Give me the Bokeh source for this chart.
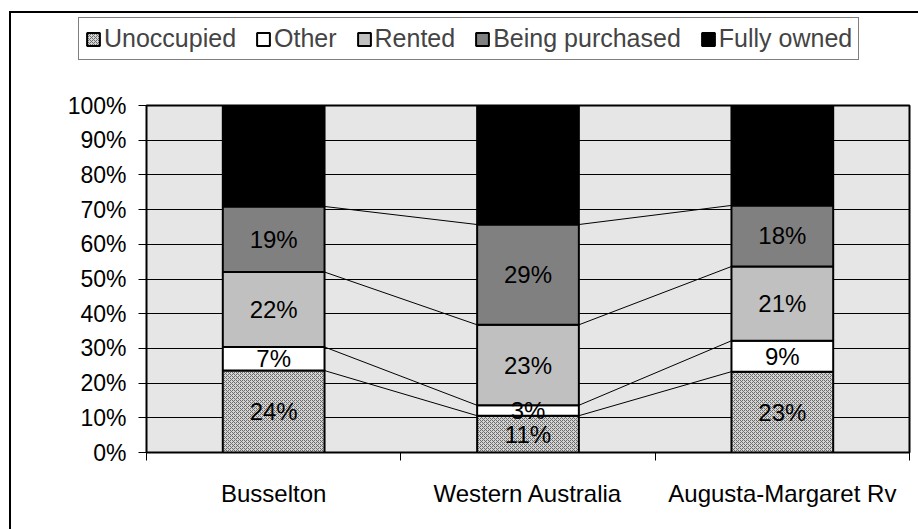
from bokeh.plotting import figure
from bokeh.layouts import column
from bokeh.models import FixedTicker, PrintfTickFormatter, Legend, LegendItem
from bokeh.embed import file_html
from bokeh.resources import INLINE
from bokeh.core.properties import value
import numpy as np

categories = ["Busselton", "Western Australia", "Augusta-Margaret Rv"]
series_names = ["Unoccupied", "Other", "Rented", "Being purchased", "Fully owned"]
unoccupied = [23.6, 10.6, 23.3]
other = [6.8, 3.0, 8.9]
rented = [21.6, 23.2, 21.4]
being_purchased = [18.9, 28.9, 17.6]
fully_owned = [29.1, 34.3, 28.8]
y_ticks = [0, 10, 20, 30, 40, 50, 60, 70, 80, 90, 100]

series = [unoccupied, other, rented, being_purchased, fully_owned]
fills = ["#d4d4d4", "#ffffff", "#c0c0c0", "#808080", "#000000"]
FONT = "Liberation Sans"
hatch_kw = dict(hatch_pattern="diagonal_cross", hatch_scale=4, hatch_color="#6a6a6a", hatch_weight=1)

xs = np.arange(len(categories)) + 0.5
bar_w = 0.4
cum = np.cumsum(np.array(series), axis=0)
bottoms = np.vstack([np.zeros(len(categories)), cum[:-1]])

W = 907
TOP_H = 78

# ---------- legend strip ----------
lg = figure(width=W, height=TOP_H, x_range=(0, len(categories)), y_range=(0, 100),
            output_backend="svg", toolbar_location=None,
            x_axis_location=None, y_axis_location=None,
            min_border=0, min_border_left=0, min_border_right=0,
            min_border_top=0, min_border_bottom=0)
lg.frame_align = False
lg.outline_line_color = None
lg.background_fill_color = "white"
lg.border_fill_color = "white"
lg.xgrid.grid_line_color = None
lg.ygrid.grid_line_color = None
items = []
for k, name in enumerate(series_names):
    kw = hatch_kw if k == 0 else {}
    r = lg.vbar(x=xs, bottom=bottoms[k], top=cum[k], width=bar_w,
                fill_color=fills[k], line_color="black", line_width=2, visible=False, **kw)
    items.append(LegendItem(label=name, renderers=[r]))
legend = Legend(items=items, orientation="horizontal", location=(67, 31),
                label_text_font=FONT, label_text_font_size="25px",
                glyph_width=16, glyph_height=16, label_standoff=3, spacing=19,
                padding=6, margin=0, border_line_color="black", border_line_width=1,
                background_fill_color="white", background_fill_alpha=1,
                inactive_fill_alpha=0)
lg.add_layout(legend)

# ---------- main chart ----------
p = figure(width=W, height=516 - TOP_H, x_range=(0, len(categories)), y_range=(0, 100),
           output_backend="svg", toolbar_location=None,
           min_border_left=135, min_border_right=9, min_border_top=14, min_border_bottom=77)
p.frame_align = False
p.background_fill_color = "#e6e6e6"
p.border_fill_color = "white"
p.outline_line_color = "black"
p.outline_line_width = 2

p.yaxis.ticker = FixedTicker(ticks=y_ticks)
p.yaxis.formatter = PrintfTickFormatter(format="%d%%")
p.yaxis.major_tick_out = 8
p.yaxis.major_tick_in = 0
p.yaxis.minor_tick_line_color = None
p.yaxis.major_label_standoff = 12
p.yaxis.major_label_text_font = FONT
p.yaxis.major_label_text_font_size = "23px"
p.yaxis.major_label_text_color = "black"
p.yaxis.axis_line_color = "black"

p.xaxis.ticker = FixedTicker(ticks=list(xs), minor_ticks=list(range(len(categories) + 1)))
p.xaxis.major_label_overrides = {float(x): c for x, c in zip(xs, categories)}
p.xaxis.major_tick_line_color = None
p.xaxis.major_tick_out = 0
p.xaxis.major_tick_in = 0
p.xaxis.minor_tick_line_color = "black"
p.xaxis.minor_tick_out = 8
p.xaxis.minor_tick_in = 0
p.xaxis.major_label_standoff = 19
p.xaxis.major_label_text_font = FONT
p.xaxis.major_label_text_font_size = "24px"
p.xaxis.major_label_text_color = "black"
p.xaxis.axis_line_color = "black"

p.xgrid.grid_line_color = None
p.ygrid.ticker = FixedTicker(ticks=y_ticks)
p.ygrid.grid_line_color = "black"
p.ygrid.grid_line_width = 1

for k, name in enumerate(series_names):
    kw = hatch_kw if k == 0 else {}
    p.vbar(x=xs, bottom=bottoms[k], top=cum[k], width=bar_w,
           fill_color=fills[k], line_color="black", line_width=2, **kw)

for k in range(len(series) - 1):
    p.segment(x0=xs[:-1] + bar_w / 2, y0=cum[k][:-1], x1=xs[1:] - bar_w / 2, y1=cum[k][1:],
              line_color="black", line_width=1)

lx, ly, lt = [], [], []
for k in range(len(series) - 1):
    for i in range(len(categories)):
        lx.append(xs[i])
        ly.append((bottoms[k][i] + cum[k][i]) / 2)
        lt.append(f"{round(series[k][i])}%")
p.text(x=lx, y=ly, text=lt, text_font=value(FONT), text_font_size="24px",
       text_align="center", text_baseline="middle", text_color="black")

layout = column(lg, p, spacing=0)
layout.styles = {"margin-left": "9px", "margin-top": "11px",
                 "border-left": "2px solid black", "border-top": "2px solid black"}

open("out.html", "w").write(file_html(layout, INLINE))
